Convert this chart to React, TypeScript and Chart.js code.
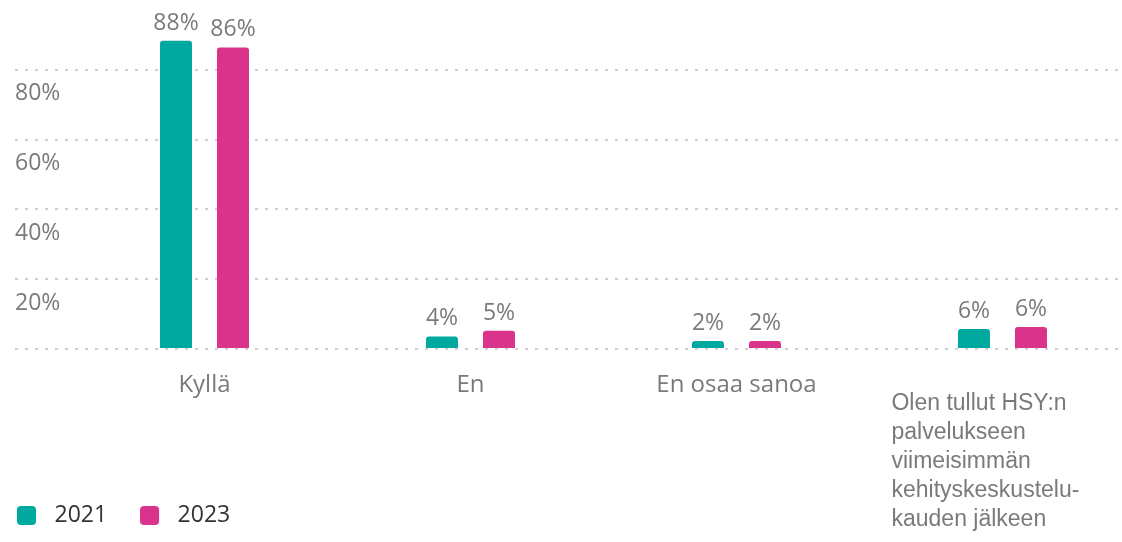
import React, { useEffect, useRef } from 'react';
import { Chart, registerables } from 'chart.js';

Chart.register(...registerables);

// ---- data ----
const categories = ['Kyllä', 'En', 'En osaa sanoa', 'Olen tullut HSY:n palvelukseen viimeisimmän kehityskeskustelukauden jälkeen'];
const longLabelLines = ['Olen tullut HSY:n', 'palvelukseen', 'viimeisimmän', 'kehityskeskustelu-', 'kauden jälkeen'];
const seriesNames = ['2021', '2023'];
const values2021 = [88.3, 3.6, 2.3, 5.7];
const values2023 = [86.4, 5.2, 2.3, 6.3];
const yTickValues = [20, 40, 60, 80];
const seriesColors = ['#00A99F', '#D9338B'];

const TEXT_GRAY = '#7a7a7a';
const FONT = 'Open Sans';

function makeIcon(color: string) {
  const c = document.createElement('canvas');
  c.width = 26;
  c.height = 19;
  const g = c.getContext('2d')!;
  g.fillStyle = color;
  g.beginPath();
  (g as any).roundRect(0, 0, 19, 19, 4);
  g.fill();
  return c;
}

const valueLabelPlugin = {
  id: 'valueLabels',
  afterDatasetsDraw(chart: any) {
    const ctx = chart.ctx;
    ctx.save();
    ctx.font = `23px "${FONT}"`;
    ctx.fillStyle = TEXT_GRAY;
    ctx.textAlign = 'center';
    ctx.textBaseline = 'alphabetic';
    chart.data.datasets.forEach((ds: any, i: number) => {
      const meta = chart.getDatasetMeta(i);
      meta.data.forEach((bar: any, j: number) => {
        const v = ds.data[j].y;
        ctx.fillText(`${Math.round(v)}%`, bar.x, bar.y - 11);
      });
    });
    ctx.restore();
  },
};

const longLabelPlugin = {
  id: 'longLabel',
  afterDraw(chart: any) {
    const ctx = chart.ctx;
    const xs = chart.scales.x;
    const x = xs.getPixelForValue(3) - 111;
    const y0 = chart.chartArea.bottom + 61;
    ctx.save();
    ctx.font = '23px "Liberation Sans"';
    ctx.fillStyle = TEXT_GRAY;
    ctx.textAlign = 'left';
    ctx.textBaseline = 'alphabetic';
    longLabelLines.forEach((line, k) => ctx.fillText(line, x, y0 + k * 29));
    ctx.restore();
  },
};

export default function App() {
  const ref = useRef<HTMLCanvasElement | null>(null);

  useEffect(() => {
    document.body.style.margin = '0';
    const icons = seriesColors.map(makeIcon);
    const chart = new Chart(ref.current!, {
      type: 'bar',
      data: {
        datasets: [
          {
            label: seriesNames[0],
            data: values2021.map((v, i) => ({ x: i, y: v })),
            backgroundColor: seriesColors[0],
          },
          {
            label: seriesNames[1],
            data: values2023.map((v, i) => ({ x: i, y: v })),
            backgroundColor: seriesColors[1],
          },
        ] as any,
      },
      options: {
        animation: false,
        responsive: false,
        events: [],
        layout: { padding: { left: -16, right: 2, top: -1, bottom: 5 } },
        datasets: {
          bar: {
            categoryPercentage: 0.4286,
            barPercentage: 0.5614,
            borderRadius: { topLeft: 3, topRight: 3, bottomLeft: 0, bottomRight: 0 },
            borderSkipped: 'start',
          },
        } as any,
        scales: {
          x: {
            type: 'linear',
            offset: false,
            min: -0.7124,
            max: 3.4419,
            grid: { display: false },
            border: { display: false },
            afterFit: (scale: any) => {
              scale.height = 122;
              scale.paddingLeft = 0;
              scale.paddingRight = 0;
            },
            afterBuildTicks: (scale: any) => {
              scale.ticks = categories.map((_, i) => ({ value: i }));
            },
            ticks: {
              includeBounds: false,
              padding: 14,
              color: TEXT_GRAY,
              font: { family: FONT, size: 24 },
              callback: (v: any) => (v === 3 ? '' : categories[v] ?? ''),
            },
          },
          y: {
            type: 'linear',
            min: 0,
            max: 100,
            afterFit: (scale: any) => {
              scale.width = 31;
              scale.paddingTop = 0;
              scale.paddingBottom = 0;
            },
            afterBuildTicks: (scale: any) => {
              scale.ticks = [0, ...yTickValues, 100].map((v) => ({ value: v }));
            },
            grid: {
              drawTicks: false,
              lineWidth: 2,
              color: (c: any) => (c.tick && c.tick.value === 100 ? 'rgba(0,0,0,0)' : '#d0d0d0'),
            },
            border: { display: false, dash: [3, 7] },
            ticks: {
              mirror: true,
              padding: 0,
              labelOffset: 24,
              color: TEXT_GRAY,
              font: { family: FONT, size: 23 },
              callback: (v: any) => (yTickValues.includes(v) ? `${v}%` : ''),
            },
          },
        },
        plugins: {
          tooltip: { enabled: false },
          legend: {
            position: 'bottom',
            align: 'start',
            labels: {
              usePointStyle: true,
              pointStyleWidth: 26,
              boxHeight: 19,
              padding: 33,
              color: '#333333',
              font: { family: FONT, size: 23 },
              generateLabels: (ch: any) => {
                const items = (Chart.defaults.plugins.legend.labels as any).generateLabels(ch);
                items.forEach((it: any, i: number) => {
                  it.pointStyle = icons[i];
                });
                return items;
              },
            },
          },
        },
      } as any,
      plugins: [valueLabelPlugin, longLabelPlugin],
    });
    return () => chart.destroy();
  }, []);

  return (
    <div style={{ width: 1122, height: 542 }}>
      <canvas ref={ref} width={1122} height={542} style={{ display: 'block' }} />
    </div>
  );
}
